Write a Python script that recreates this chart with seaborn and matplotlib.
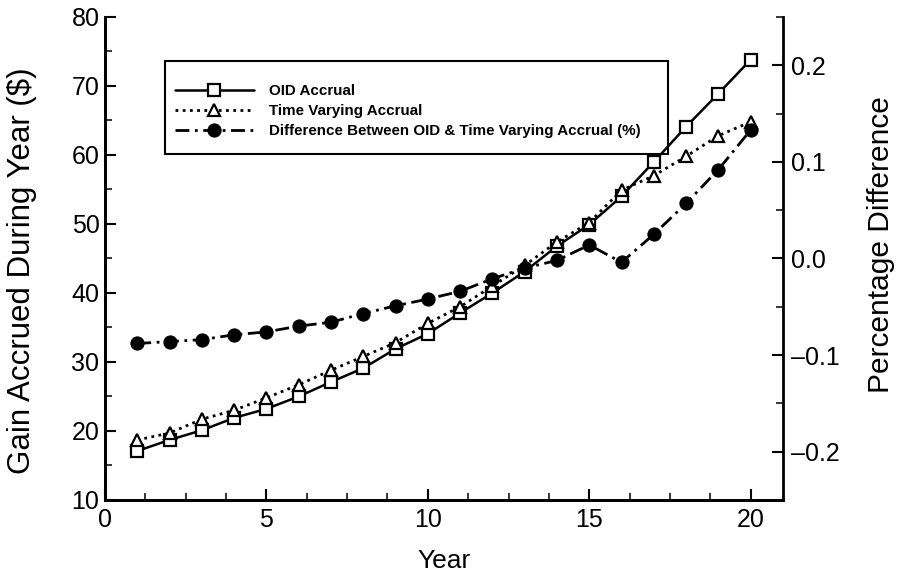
import matplotlib
matplotlib.use("Agg")
import matplotlib.pyplot as plt
from matplotlib.patches import Rectangle
from matplotlib.ticker import MultipleLocator, FuncFormatter
import seaborn as sns
import pandas as pd

# ---- data ----
years = [1, 2, 3, 4, 5, 6, 7, 8, 9, 10, 11, 12, 13, 14, 15, 16, 17, 18, 19, 20]
oid_accrual = [17.1, 18.7, 20.1, 21.9, 23.2, 25.0, 27.1, 29.1, 31.9, 34.1,
               37.1, 40.0, 43.1, 46.8, 49.9, 54.0, 59.0, 64.1, 68.9, 73.8]
time_varying = [18.7, 19.7, 21.7, 23.0, 24.8, 26.7, 28.8, 30.8, 32.8, 35.6,
                38.0, 41.0, 44.0, 47.4, 50.2, 54.9, 57.0, 59.8, 62.8, 64.8]
pct_difference = [-0.088, -0.086, -0.084, -0.079, -0.076, -0.070, -0.066, -0.057, -0.049, -0.042,
                  -0.034, -0.021, -0.010, -0.002, 0.014, -0.004, 0.025, 0.057, 0.092, 0.133]
labels = ["OID Accrual", "Time Varying Accrual",
          "Difference Between OID & Time Varying Accrual (%)"]

df = pd.DataFrame({"Year": years, "OID": oid_accrual, "TV": time_varying, "Diff": pct_difference})

sns.set_theme(style="ticks")
plt.rcParams["font.family"] = ["Liberation Sans", "DejaVu Sans"]
plt.rcParams["text.color"] = "black"
plt.rcParams["axes.labelcolor"] = "black"

fig = plt.figure(figsize=(9.02, 5.78), dpi=100)
ax = fig.add_axes([0.1164, 0.135, 0.7516, 0.8356])
ax2 = ax.twinx()

sns.lineplot(data=df, x="Year", y="OID", ax=ax, color="black", linewidth=1.8,
             linestyle="-", marker="s", markersize=8.5, markerfacecolor="white",
             markeredgecolor="black", markeredgewidth=1.6, label=labels[0], legend=False)
sns.lineplot(data=df, x="Year", y="TV", ax=ax, color="black", linewidth=2.0,
             linestyle=(0, (1, 1.6)), marker="^", markersize=8.5, markerfacecolor="white",
             markeredgecolor="black", markeredgewidth=1.6, label=labels[1], legend=False)
sns.lineplot(data=df, x="Year", y="Diff", ax=ax2, color="black", linewidth=2.0,
             linestyle=(0, (5, 2, 1, 2)), marker="o", markersize=9.5, markerfacecolor="black",
             markeredgecolor="black", label=labels[2], legend=False)

ax.set_xlim(0, 21)
ax.set_ylim(10, 80)
ax2.set_ylim(-0.25, 0.25)

ax.xaxis.set_major_locator(MultipleLocator(5))
ax.xaxis.set_minor_locator(MultipleLocator(1.25))
ax.yaxis.set_major_locator(MultipleLocator(10))
ax.yaxis.set_minor_locator(MultipleLocator(5))
ax2.set_yticks([-0.2, -0.1, 0.0, 0.1, 0.2])
ax2.yaxis.set_minor_locator(MultipleLocator(0.05))
ax2.yaxis.set_major_formatter(FuncFormatter(lambda v, p: f"{v:.1f}".replace("-", "\u2013")))

for a in (ax, ax2):
    a.tick_params(which="major", direction="in", length=8, width=1.5, labelsize=18,
                  colors="black", labelcolor="black")
    a.tick_params(which="minor", direction="in", length=5, width=1.3)
    a.spines["top"].set_visible(False)
    for s in a.spines.values():
        s.set_linewidth(2)
        s.set_color("black")
    a.grid(False)
ax.tick_params(axis="x", pad=6)
ax.tick_params(axis="y", pad=4)
ax2.tick_params(axis="y", pad=6)
ax.spines["right"].set_visible(False)

ax.set_xlabel("Year", fontsize=19, labelpad=12, color="black")
ax.set_ylabel("Gain Accrued During Year ($)", fontsize=22.5, color="black")
ax.yaxis.set_label_coords(-0.100, 0.474)
ax2.set_ylabel("Percentage Difference", fontsize=21.5, color="black")
ax2.yaxis.set_label_coords(1.124, 0.528)

# legend box
ax2.add_patch(Rectangle((0.0885, 0.716), 0.742, 0.193, transform=ax.transAxes,
                        fill=False, edgecolor="black", linewidth=1.5, zorder=5))
h1, l1 = ax.get_legend_handles_labels()
h2, l2 = ax2.get_legend_handles_labels()
ax2.legend(h1 + h2, l1 + l2, loc="upper left", bbox_to_anchor=(0.1032, 0.861),
           bbox_transform=ax.transAxes, frameon=False,
           prop={"size": 10.9, "weight": "bold"}, borderpad=0,
           handlelength=5.2, handletextpad=1.0, labelspacing=0.4, borderaxespad=0)

fig.savefig("out.png", dpi=100)
